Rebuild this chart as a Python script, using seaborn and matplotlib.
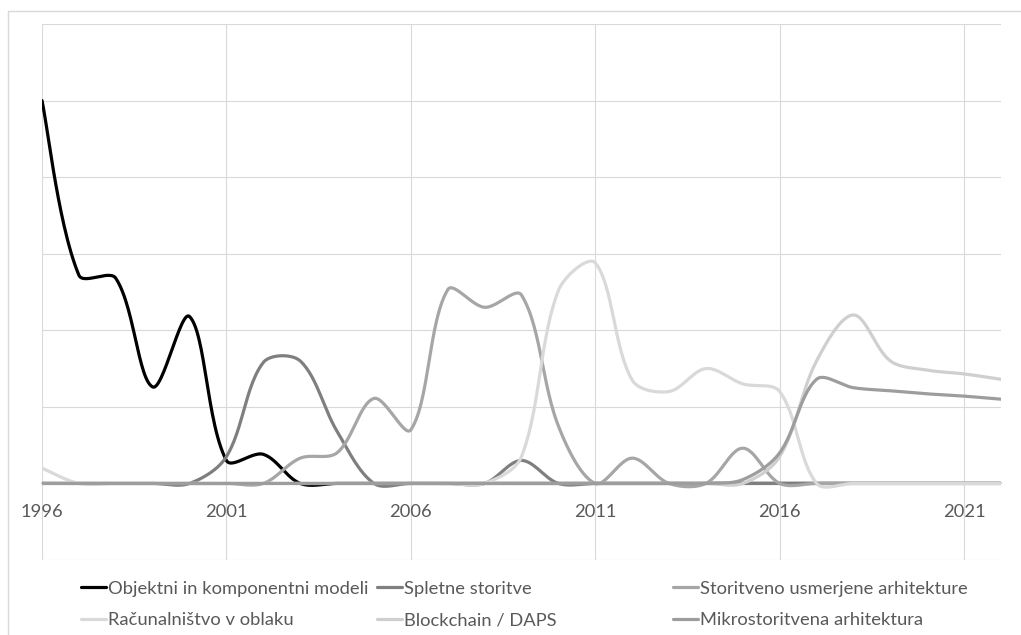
import numpy as np
import pandas as pd
import matplotlib
matplotlib.use("Agg")
import matplotlib.pyplot as plt
from matplotlib.lines import Line2D
import seaborn as sns

# ---- data: yearly values, 1996-2022 ----
years = [1996, 1997, 1998, 1999, 2000, 2001, 2002, 2003, 2004, 2005,
         2006, 2007, 2008, 2009, 2010, 2011, 2012, 2013, 2014, 2015,
         2016, 2017, 2018, 2019, 2020, 2021, 2022]

objektni = [5.00, 2.72, 2.68, 1.26, 2.18, 0.30, 0.38, 0, 0, 0,
            0, 0, 0, 0, 0, 0, 0, 0, 0, 0,
            0, 0, 0, 0, 0, 0, 0]
spletne = [0, 0, 0, 0, 0, 0.35, 1.58, 1.60, 0.68, 0,
           0, 0, 0, 0.30, 0, 0, 0, 0, 0, 0,
           0, 0, 0, 0, 0, 0, 0]
soa = [0, 0, 0, 0, 0, 0, 0, 0.33, 0.40, 1.11,
       0.70, 2.53, 2.30, 2.46, 0.75, 0, 0.33, 0, 0, 0.46,
       0, 0, 0, 0, 0, 0, 0]
oblak = [0.20, 0, 0, 0, 0, 0, 0, 0, 0, 0,
         0, 0, 0, 0.35, 2.52, 2.88, 1.35, 1.20, 1.50, 1.30,
         1.20, 0, 0, 0, 0, 0, 0]
blockchain = [0, 0, 0, 0, 0, 0, 0, 0, 0, 0,
              0, 0, 0, 0, 0, 0, 0, 0, 0, 0,
              0.35, 1.60, 2.20, 1.60, 1.48, 1.43, 1.36]
mikro = [0, 0, 0, 0, 0, 0, 0, 0, 0, 0,
         0, 0, 0, 0, 0, 0, 0, 0, 0, 0.05,
         0.40, 1.36, 1.25, 1.21, 1.17, 1.14, 1.10]

labels = ["Objektni in komponentni modeli", "Spletne storitve",
          "Storitveno usmerjene arhitekture", "Računalništvo v oblaku",
          "Blockchain / DAPS", "Mikrostoritvena arhitektura"]
series = [objektni, spletne, soa, oblak, blockchain, mikro]
colors = ["#000000", "#7f7f7f", "#a6a6a6", "#d9d9d9", "#cfcfcf", "#9d9d9d"]

xtick_years = [1996, 2001, 2006, 2011, 2016, 2021]

# ---- figure geometry (pixels) ----
W, H = 1021, 635
L, R, T, B = 42, 1001, 24, 560
XMIN, XMAX = 1996, 2022
YMIN, YMAX = -1, 6
SX = (R - L) / (XMAX - XMIN)      # px per year
SY = (B - T) / (YMAX - YMIN)      # px per unit


def smooth_curve(xv, yv, t=1 / 3, n=30):
    """Bezier smoothing through the points, computed in screen space."""
    P = np.column_stack([(np.asarray(xv, float) - xv[0]) * SX,
                         np.asarray(yv, float) * SY])
    m = len(P)
    cin = P.copy()
    cout = P.copy()
    for i in range(1, m - 1):
        d0 = np.linalg.norm(P[i] - P[i - 1])
        d1 = np.linalg.norm(P[i + 1] - P[i])
        tan = P[i + 1] - P[i - 1]
        s = d0 + d1
        cin[i] = P[i] - tan * t * d0 / s
        cout[i] = P[i] + tan * t * d1 / s
    cout[0] = P[0] + (P[1] - P[0]) * t / 2
    cin[-1] = P[-1] - (P[-1] - P[-2]) * t / 2
    u = np.linspace(0, 1, n)[:, None]
    pts = []
    for i in range(m - 1):
        seg = ((1 - u) ** 3 * P[i] + 3 * (1 - u) ** 2 * u * cout[i]
               + 3 * (1 - u) * u ** 2 * cin[i + 1] + u ** 3 * P[i + 1])
        pts.append(seg if i == 0 else seg[1:])
    pts = np.vstack(pts)
    return xv[0] + pts[:, 0] / SX, pts[:, 1] / SY


sns.set_theme(style="white")
plt.rcParams["font.family"] = ["Lato", "DejaVu Sans"]

fig = plt.figure(figsize=(W / 100, H / 100), dpi=100)
ax = fig.add_axes([L / W, 1 - B / H, (R - L) / W, (B - T) / H])

for vals, lab, col in zip(series, labels, colors):
    sx_, sy_ = smooth_curve(years, vals)
    df = pd.DataFrame({"leto": sx_, "vrednost": sy_})
    sns.lineplot(data=df, x="leto", y="vrednost", sort=False, estimator=None,
                 color=col, lw=2.3, ax=ax, legend=False, zorder=3,
                 solid_capstyle="round")

ax.set_xlim(XMIN, XMAX)
ax.set_ylim(YMIN, YMAX)
ax.set_xticks(xtick_years)
ax.set_xticklabels([str(y) for y in xtick_years])
ax.set_yticks(range(YMIN, YMAX + 1))
ax.set_axisbelow(True)
ax.grid(True, color="#d9d9d9", lw=0.8)
ax.set_xlabel("")
ax.set_ylabel("")
ax.tick_params(axis="x", length=0, pad=14.5, labelsize=13.2, labelcolor="#595959")
ax.tick_params(axis="y", length=0, labelleft=False)
for side in ("top", "right", "left"):
    ax.spines[side].set_visible(False)
ax.spines["bottom"].set_position(("data", 0))
ax.spines["bottom"].set_color("#bfbfbf")
ax.spines["bottom"].set_linewidth(1.2)

# legend: three columns, two rows
handles = [Line2D([], [], color=c, lw=2.3) for c in colors]
col_x = [81, 377, 673]
for k, x0 in enumerate(col_x):
    idx = [k, k + 3]
    fig.legend([handles[i] for i in idx], [labels[i] for i in idx],
               loc="center left", bbox_to_anchor=(x0 / W, 1 - 604.5 / H),
               frameon=False, borderpad=0, borderaxespad=0,
               handlelength=1.37, handletextpad=0.1, labelspacing=0.86,
               fontsize=13.2, labelcolor="#595959")

# outer chart frame
frame_kw = dict(transform=fig.transFigure, color="#d9d9d9", lw=1)
fig.add_artist(Line2D([8 / W, 1], [1 - 11 / H, 1 - 11 / H], **frame_kw))
fig.add_artist(Line2D([8 / W, 8 / W], [0, 1 - 11 / H], **frame_kw))

fig.savefig("out.png", dpi=100)
